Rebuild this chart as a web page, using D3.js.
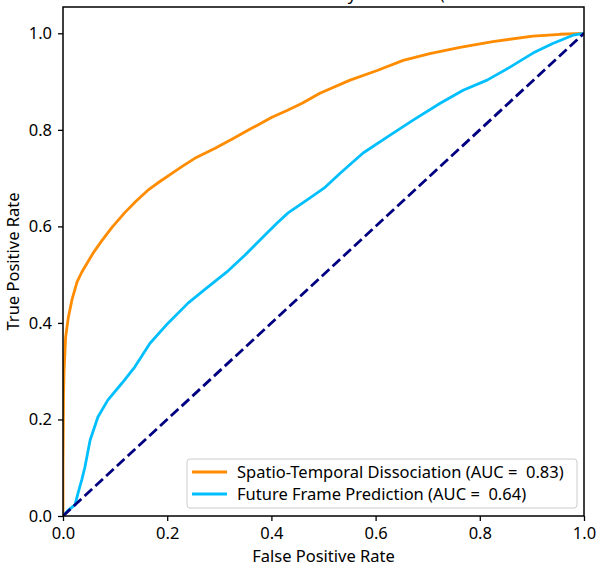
<!DOCTYPE html>
<html>
<head>
<meta charset="utf-8">
<script src="https://cdn.jsdelivr.net/npm/d3@7"></script>
<style>
  html, body { margin: 0; padding: 0; background: #fff; }
  svg { display: block; font-family: "Noto Sans", "Open Sans", sans-serif; }
</style>
</head>
<body>
<script>
const titlePrefix = "ROC Curve for Anomal";
const titleText = "ROC Curve for Anomaly Detection (Ours vs. Future Frame Prediction)";
const xLabel = "False Positive Rate";
const yLabel = "True Positive Rate";
const xTicks = [0.0, 0.2, 0.4, 0.6, 0.8, 1.0];
const yTicks = [0.0, 0.2, 0.4, 0.6, 0.8, 1.0];

const seriesNames = ["Spatio-Temporal Dissociation (AUC =  0.83)", "Future Frame Prediction (AUC =  0.64)"];
const seriesColors = ["#ff8c00", "#00bfff"];

const stdFpr = [0, 0, 0.001, 0.002, 0.005, 0.010, 0.017, 0.027, 0.036, 0.047, 0.058, 0.075, 0.094, 0.119, 0.140, 0.163, 0.186, 0.209, 0.231, 0.253, 0.292, 0.325, 0.355, 0.401, 0.430, 0.459, 0.493, 0.551, 0.603, 0.653, 0.704, 0.762, 0.825, 0.902, 0.954, 1.0];
const stdTpr = [0, 0.10, 0.25, 0.30, 0.37, 0.41, 0.447, 0.485, 0.505, 0.525, 0.545, 0.571, 0.598, 0.629, 0.652, 0.675, 0.693, 0.710, 0.726, 0.741, 0.762, 0.781, 0.799, 0.826, 0.840, 0.855, 0.876, 0.903, 0.923, 0.944, 0.958, 0.971, 0.983, 0.994, 0.998, 1.0];

const ffpFpr = [0, 0.010, 0.023, 0.029, 0.036, 0.042, 0.052, 0.067, 0.086, 0.113, 0.138, 0.167, 0.202, 0.240, 0.273, 0.317, 0.349, 0.370, 0.393, 0.410, 0.432, 0.470, 0.503, 0.532, 0.576, 0.622, 0.672, 0.724, 0.768, 0.814, 0.858, 0.902, 0.940, 0.979, 1.0];
const ffpTpr = [0, 0.012, 0.023, 0.048, 0.075, 0.101, 0.157, 0.205, 0.240, 0.275, 0.309, 0.358, 0.400, 0.441, 0.470, 0.508, 0.540, 0.563, 0.588, 0.606, 0.628, 0.656, 0.681, 0.710, 0.752, 0.785, 0.820, 0.855, 0.882, 0.903, 0.930, 0.959, 0.979, 0.996, 1.0];

const chanceX = [0, 1];
const chanceY = [0, 1];

const W = 597, H = 569;
const L = 63, R = 584, T = 7, B = 516;
const FS = 16.5;

const svg = d3.select("body").append("svg").attr("width", W).attr("height", H);

const x = d3.scaleLinear().domain([0, 1]).range([L, R]);
const y = d3.scaleLinear().domain([0, 1.0545]).range([B, T]);

// title (mostly clipped above the window, as in the reference)
const title = svg.append("text").attr("x", 0).attr("y", 0)
  .attr("font-size", FS).attr("fill", "#000").text(titleText);
{
  const node = title.node();
  const pre = node.getSubStringLength(0, titlePrefix.length);
  const yw = node.getSubStringLength(titlePrefix.length, 1);
  title.attr("x", 352 - pre - yw / 2);
}

const line = d3.line().x(d => x(d[0])).y(d => y(d[1]));

const series = [
  { fpr: stdFpr, tpr: stdTpr },
  { fpr: ffpFpr, tpr: ffpTpr }
];

svg.append("clipPath").attr("id", "clip").append("rect")
  .attr("x", L).attr("y", T).attr("width", R - L).attr("height", B - T);

const plot = svg.append("g").attr("clip-path", "url(#clip)");

series.forEach((s, i) => {
  plot.append("path")
    .datum(s.fpr.map((v, k) => [v, s.tpr[k]]))
    .attr("d", line)
    .attr("fill", "none")
    .attr("stroke", seriesColors[i])
    .attr("stroke-width", 2.8)
    .attr("stroke-linejoin", "round");
});

plot.append("path")
  .datum(chanceX.map((v, k) => [v, chanceY[k]]))
  .attr("d", line)
  .attr("fill", "none")
  .attr("stroke", "#000080")
  .attr("stroke-width", 2.8)
  .attr("stroke-dasharray", "10.3,4.4");

// axes
const xAxis = d3.axisBottom(x).tickValues(xTicks).tickFormat(d3.format(".1f")).tickSizeOuter(0).tickSize(5).tickPadding(6);
const yAxis = d3.axisLeft(y).tickValues(yTicks).tickFormat(d3.format(".1f")).tickSizeOuter(0).tickSize(5).tickPadding(6);

const gx = svg.append("g").attr("transform", `translate(0,${B})`).call(xAxis);
const gy = svg.append("g").attr("transform", `translate(${L},0)`).call(yAxis);
[gx, gy].forEach(g => {
  g.select(".domain").remove();
  g.selectAll(".tick line").attr("stroke", "#000").attr("stroke-width", 1.3);
  g.selectAll(".tick text").attr("font-size", FS).attr("fill", "#000").attr("font-family", "Noto Sans, Open Sans, sans-serif");
});

// frame
svg.append("rect").attr("x", L).attr("y", T).attr("width", R - L).attr("height", B - T)
  .attr("fill", "none").attr("stroke", "#000").attr("stroke-width", 1.5);

// axis labels
svg.append("text").attr("x", (L + R) / 2).attr("y", 561.5)
  .attr("text-anchor", "middle").attr("font-size", FS).attr("fill", "#000").text(xLabel);
svg.append("text").attr("transform", `translate(19,${(T + B) / 2}) rotate(-90)`)
  .attr("text-anchor", "middle").attr("font-size", FS).attr("fill", "#000").text(yLabel);

// legend
const lg = svg.append("g");
lg.append("rect").attr("x", 187).attr("y", 459).attr("width", 390).attr("height", 49)
  .attr("rx", 3).attr("fill", "#fff").attr("fill-opacity", 0.8)
  .attr("stroke", "#cccccc").attr("stroke-width", 1);
seriesNames.forEach((n, i) => {
  const yy = 472 + i * 22;
  lg.append("line").attr("x1", 192).attr("x2", 227).attr("y1", yy).attr("y2", yy)
    .attr("stroke", seriesColors[i]).attr("stroke-width", 2.8);
  lg.append("text").attr("x", 237).attr("y", yy + 6).attr("font-size", FS).attr("fill", "#000")
    .attr("xml:space", "preserve").style("white-space", "pre").text(n);
});
</script>
</body>
</html>
